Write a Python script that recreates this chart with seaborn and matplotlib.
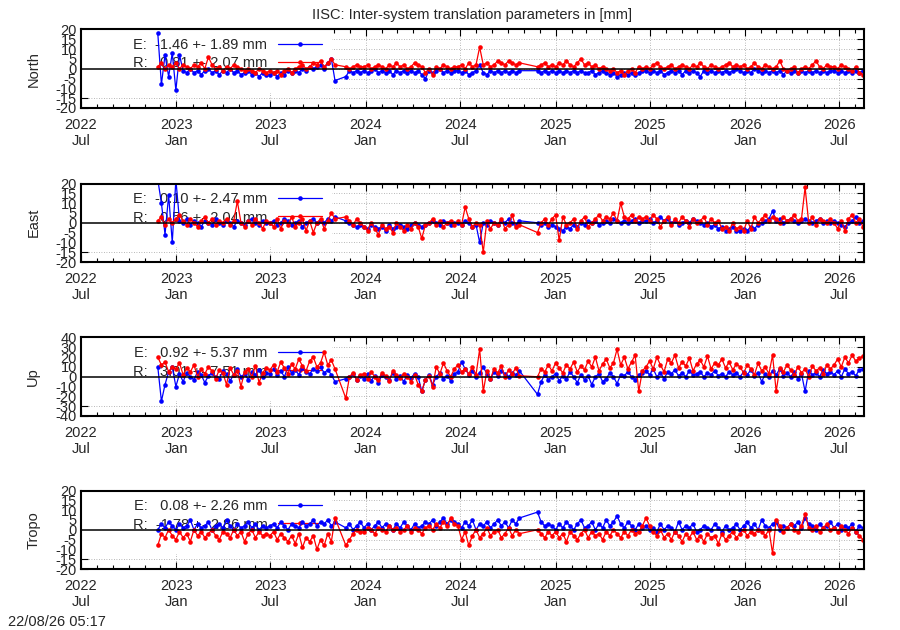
import numpy as np
import pandas as pd
import matplotlib
matplotlib.use("Agg")
import matplotlib.pyplot as plt
import matplotlib.dates as mdates
from matplotlib.lines import Line2D
from matplotlib.patches import Rectangle
import seaborn as sns

nan = np.nan

# time span of the solutions (weekly samples)
start_date = "2022-11-26"
end_date = "2026-08-16"
x_min = "2022-07-01"
x_max = "2026-08-18"

panel_names = ["North", "East", "Up", "Tropo"]
e_stats = ["-1.46 +- 1.89", "-0.10 +- 2.47", " 0.92 +- 5.37", " 0.08 +- 2.26"]
r_stats = [" 0.81 +- 2.07", " 0.56 +- 2.04", " 3.01 +- 7.51", "-1.78 +- 2.86"]
y_ticks = [list(range(-20, 21, 5)), list(range(-20, 21, 5)),
           list(range(-40, 41, 10)), list(range(-20, 21, 5))]

north_e = [18, -8, 7, -4, 8, -11, 7, -1, -2, 0, -2, -1, -3, -1, 0, -2, -1, -3, -1, -2, 0, -2, -1, -3, -2, -1, -3, -2, -4, -2, -3,
           -3, -2, -4, -2, -3, -1, -2, -1, -2, 0, -1, 1, 0, 1, 2, 0, 3, 5, -6, nan, nan, -4, -1, -2, -1, -2,
           -1, -2, -1, 0, -2, -1, -2, -1, -3, -1, -2, -1, -2, -1, -2, -1, -3, -5, -1, -2, -1, 0, -2, -1, -2, -1,
           -1, -2, -1, -3, -2, -1, 2, -2, -3, -1, -2, -1, -2, -1, -2, -1, -2, -1, nan, nan, nan, nan, -1, -2, -1, -2,
           -1, -2, -1, -2, -1, -2, -1, -2, -1, -2, -2, -1, -3, -2, -1, -2, -3, -2, -4, -3, -2, -3, -2, -3, -2, -1,
           -1, -2, -1, -2, -1, -3, -2, -1, -2, -1, -3, -1, -2, -1, -2, -4, -1, -2, -1, -2, -1, -2, -1, -2, -1, 0,
           -1, -2, -1, -2, 0, -1, -2, -1, -2, -1, -2, -1, -3, -1, -2, -1, -2, -1, -2, -1, -2, -1, -2, -1, -2, -1,
           -1, -2, -1, -2, -1, -2, -1, -2, -1]
north_r = [1, 3, 0, 2, 1, 3, 0, 2, 1, 0, 2, 1, 3, 0, 6, 2, 0, 1, -1, 1, 0, 2, 1, 0, -1, 0, -1, -2, 0, -1, -2,
           -1, -2, -1, -3, -1, 0, -2, 0, 1, 2, 0, 1, 3, 2, 4, 1, 3, 5, 2, nan, nan, 1, 0, 1, 2, 1,
           1, 2, 0, 1, 2, 1, 0, 2, 1, 3, 1, 2, 0, 1, 3, 2, 1, -2, 0, -3, 1, 0, 2, 1, 0, 1,
           1, 2, 0, 3, 1, 2, 11, 2, 3, 1, 2, 4, 3, 2, 4, 3, 2, 3, nan, nan, nan, nan, 1, 2, 3, 1,
           2, 1, 3, 2, 4, 2, 1, 3, 5, 2, 3, 1, 2, 0, 1, 0, -1, 0, -2, -1, -3, -1, 0, -2, 1, 0,
           1, 0, 2, 3, 1, 0, 1, 2, 0, 1, 2, 1, 0, 2, 1, 3, 1, 0, 2, 1, 0, 1, 2, 3, 1, 2,
           1, 2, 0, 1, 3, 1, 0, 2, 1, 0, 1, 4, 0, -1, 0, 1, -2, 0, 1, 0, 2, 4, 1, 0, 2, 1,
           1, 0, 2, 1, 0, -1, 1, -2, -3]

east_e = [22, 10, -6, 14, -10, 22, 1, 0, 2, -1, 1, 0, -2, 1, 0, -1, 2, 0, -1, 1, 0, -2, 1, 0, -1, 1, 2, 0, -1, 1, 0,
          0, 1, -1, 0, 2, 1, -1, 0, 1, -2, 0, 1, 2, 0, 1, 0, 2, 1, 3, nan, nan, 1, 0, -1, -2, -1,
          -2, -3, -1, -2, -3, -2, -4, -1, -3, -2, -1, -2, -3, -1, 0, -1, -2, -1, 0, 1, 0, -1, 1, 0, -1, 0,
          0, -1, 1, 0, -2, -1, -10, 0, -1, 1, 0, -1, 1, 0, 2, 0, -1, 1, nan, nan, nan, nan, 0, -1, 0, -2,
          -1, -2, -3, -4, -2, -3, -1, -2, 0, -1, 1, 0, 1, -1, 0, 1, 0, 2, 1, 0, 1, 0, 1, 2, 0, 1,
          1, 2, 0, 1, 3, 1, 2, 0, 1, -1, 0, 1, 0, 2, 1, 0, -1, 0, -2, -1, -3, -2, -4, -3, -2, -4,
          -4, -3, -4, -2, -3, -1, 0, 1, 2, 6, 1, 2, 0, 1, 2, 1, 0, 1, 2, 1, 0, 1, 2, 0, 1, 0,
          1, 0, -1, -2, 0, 1, 3, 0, 1]
east_r = [1, 3, -1, 2, 0, 2, 4, 1, -1, 2, 0, -2, 1, 3, 0, 2, -1, 1, 0, 2, -1, 1, 11, 0, -2, 1, -1, 2, 0, -3, 1,
          0, -2, 2, -3, 1, -1, 3, -2, 0, 2, -4, 1, -5, 0, 2, -3, 1, 5, 2, nan, nan, 3, 1, -1, 2, 0,
          -2, -4, 0, -3, -6, -1, -3, -2, -5, 0, -2, -4, -1, -3, 0, -2, -8, -1, 0, 2, -1, 1, -2, 0, 1, -1,
          1, -1, 8, 2, -2, 0, -1, -15, 1, -3, 0, -1, 2, -3, -1, 4, -2, -1, nan, nan, nan, nan, -5, 0, 2, -1,
          2, 4, -9, 3, -1, 0, 2, -3, 1, 3, -2, 0, 2, 4, 1, 3, 2, 5, 1, 10, 3, 2, 4, 1, 3, 2,
          3, 1, 4, 2, -2, 1, 3, -1, 2, 0, 3, 1, -2, 2, 0, 1, 3, -1, 2, 0, 1, -3, -2, -4, 0, -3,
          -2, -4, 1, -3, 3, 0, 2, 4, 1, 3, 2, 0, 3, 1, 2, 4, 1, 2, 18, 0, 3, -1, 2, 1, 0, 2,
          0, -3, 1, -4, 2, 4, 0, 2, -2]

up_e = [10, -25, -8, 5, 10, -10, 3, -5, 4, 0, -3, 5, 2, -6, 1, 4, 0, -2, 6, 3, -4, 2, 8, 0, 3, -3, 5, 2, 7, 0, 4,
        3, 8, 2, 6, 0, 10, 4, 7, 2, 9, 5, 3, 8, 6, 10, 4, 7, 2, -5, nan, nan, -2, 0, 3, -3, 1,
        -2, 3, -4, 1, -6, 2, 0, -3, 4, -2, 1, -5, 2, -1, 3, 0, -15, -3, 2, -8, 0, 4, -2, 1, -4, 3,
        5, 15, 8, 2, 6, 0, 4, 10, 3, -2, 5, 1, 6, 3, 0, 4, 2, 6, nan, nan, nan, nan, -18, -5, 2, -3,
        0, 3, -4, 1, -2, 5, 0, -6, 2, -3, 1, -8, 0, 3, -5, -2, 4, 0, -7, 2, 1, 5, 0, -3, 2, 4,
        6, 2, 8, 0, 4, -2, 5, 3, 7, 1, 4, 0, 6, 2, 3, 5, 0, 4, 2, 6, 1, 3, 0, 5, 2, 4,
        0, 5, 2, 7, 1, 4, -5, 3, 0, 6, 2, 8, 1, 4, 0, 5, -2, 3, -15, 6, 2, 4, 0, 7, 3, 5,
        2, 6, 0, 8, 3, 5, 1, 7, 8]
up_r = [20, 12, 15, 5, 10, 8, 14, 2, 9, 5, 12, 0, 8, 3, 10, 6, -2, 7, 4, -8, 9, 2, 6, -10, 5, 8, 0, 11, -6, 4, 9,
        7, 12, 5, 15, 9, 3, 13, 8, 18, 11, 6, 16, 20, 10, 14, 25, 12, 17, 8, nan, nan, -22, 0, 4, -3, 2,
        3, -2, 5, 0, -3, 4, 1, -4, 6, 2, -1, 3, 0, -5, 2, -8, -15, -3, 1, -10, 10, 3, 14, 6, 0, 8,
        12, 5, 8, 3, 10, 2, 28, -15, 6, -2, 8, 4, 11, 0, 7, 3, 9, 1, nan, nan, nan, nan, 0, 8, 5, 12,
        6, 14, 9, 4, 12, 8, 15, 5, 11, 7, 16, 10, 20, 6, 13, 18, 9, 14, 28, 12, 20, 8, 15, 22, -15, 6,
        10, 16, 8, 20, 12, 5, 18, 14, 22, 9, 15, 11, 19, 6, 13, 17, 10, 21, 8, 14, 12, 18, 9, 15, 7, 13,
        10, 4, 12, 8, 2, 14, 6, 10, 3, 22, -15, 9, 5, 12, 7, 2, 10, 4, 8, 0, 11, 6, 9, 3, 12, 8,
        12, 18, 10, 20, 14, 22, 16, 19, 21]

tropo_e = [0, 3, 1, 4, 2, 0, 3, 1, 2, 5, 0, 3, 1, 2, 4, 0, 2, 3, 1, 5, 2, 0, 3, 1, 2, 4, 1, 3, 0, 2, 1,
           2, 3, 1, 4, 2, 0, 3, 2, 1, 4, 2, 3, 5, 2, 4, 3, 5, 2, 4, nan, nan, 1, 3, 0, 2, 4,
           1, 3, 0, 2, 4, 1, 3, 2, 0, 3, 1, 4, 2, 0, 3, 1, 2, 4, 3, 5, 2, 4, 6, 3, 5, 4,
           3, 1, 4, 2, 5, 0, 3, 2, 4, 1, 3, 5, 2, 4, 1, 5, 3, 6, nan, nan, nan, nan, 9, 4, 2, 3,
           2, 0, 3, 1, 4, 2, 0, 3, 5, 1, 2, 4, 0, 3, 1, 5, 2, 4, 7, 3, 1, 4, 2, 0, 3, 1,
           2, 0, 1, -1, 3, 0, 2, 1, -1, 4, 0, 2, 1, 3, -1, 0, 2, 1, 0, 3, 1, -1, 2, 0, 1, 3,
           0, 2, 4, 1, 3, 0, 5, 2, 1, 3, 4, 0, 2, 1, 3, 2, 4, 1, 6, 3, 2, 0, 3, 1, 2, 4,
           1, 3, 0, 2, 1, 3, -1, 2, 1]
tropo_r = [-8, -2, -4, 0, -3, -5, -1, -4, -2, -6, 0, -3, -1, -4, -2, 0, -3, -5, -1, -2, -4, 0, -3, -1, -6, -2, 0, -4, -1, -3, -2,
           -3, -1, -5, -2, -4, -6, -3, -7, -2, -9, -4, -6, -3, -10, -5, -8, -2, -6, 6, nan, nan, -8, -5, -2, 0, -1,
           -1, 1, 0, -2, 1, 0, -1, 2, 0, 1, -1, 0, 2, -1, 1, 0, -2, 1, 2, 0, 3, 1, 4, 2, 6, 3,
           2, -5, -1, -8, -3, 0, -4, -2, 1, -3, -1, 0, -4, -2, 1, -3, 0, -2, nan, nan, nan, nan, 0, -2, -4, -1,
           -3, -1, -4, -2, -6, -1, -3, -5, -2, 0, -4, -1, -3, -2, -5, -1, -3, 0, -2, -4, -1, -3, 0, -2, -1, 2,
           6, 2, -1, -3, 0, -4, -2, -5, -1, -3, -6, -2, -4, -1, -5, -3, -6, -2, -4, -3, -7, -2, -5, -3, -1, -4,
           -2, 0, -3, -1, -2, 0, -1, -3, 0, -12, 5, 2, -1, 1, 3, 0, -1, 2, 8, 1, 0, 2, -1, 1, 3, 0,
           1, -1, 2, 0, -2, 1, -1, -3, -5]

series_e = [north_e, east_e, up_e, tropo_e]
series_r = [north_r, east_r, up_r, tropo_r]

sns.set_style("ticks")
plt.rcParams["font.family"] = ["Liberation Sans", "DejaVu Sans"]
plt.rcParams["font.size"] = 10.5
plt.rcParams["axes.unicode_minus"] = False

fig = plt.figure(figsize=(9, 6.3), dpi=100)
bottoms = [0.8286, 0.5841, 0.3397, 0.0968]

def to_frame(vals):
    df = pd.DataFrame({"date": pd.date_range(start_date, end_date, periods=len(vals)),
                       "value": vals})
    return df.dropna()

for k, name in enumerate(panel_names):
    ax = fig.add_axes([0.09, bottoms[k], 0.87, 0.1246])

    for vals, col in [(series_e[k], "blue"), (series_r[k], "red")]:
        sns.lineplot(data=to_frame(vals), x="date", y="value", ax=ax, color=col,
                     marker="o", markersize=3.3, markeredgewidth=0, linewidth=0.9,
                     estimator=None, sort=False, zorder=2)

    ax.axhline(0, color="black", linewidth=1.1, zorder=2.5)

    # white key box hiding the grid, like gnuplot
    ax.add_patch(Rectangle((0, 0.19), 0.32, 0.81, transform=ax.transAxes,
                           facecolor="white", edgecolor="none", zorder=1))
    handles = [Line2D([], [], color="blue", marker="o", markersize=3.3, linewidth=0.9, markeredgewidth=0),
               Line2D([], [], color="red", marker="o", markersize=3.3, linewidth=0.9, markeredgewidth=0)]
    labels = [f"E:  {e_stats[k]} mm", f"R:  {r_stats[k]} mm"]
    leg = ax.legend(handles, labels, loc="upper left", bbox_to_anchor=(0.066, 0.89),
                    frameon=False, markerfirst=False, handlelength=3.0, handletextpad=0.75,
                    borderpad=0, borderaxespad=0, labelspacing=0.3, fontsize=10.5)
    leg.set_zorder(1.5)

    ax.set_xlim(pd.Timestamp(x_min), pd.Timestamp(x_max))
    ax.set_ylim(y_ticks[k][0], y_ticks[k][-1])
    ax.set_yticks(y_ticks[k])
    ax.xaxis.set_major_locator(mdates.MonthLocator(bymonth=[1, 7]))
    ax.xaxis.set_major_formatter(mdates.DateFormatter("%Y\n%b"))
    ax.xaxis.set_minor_locator(mdates.MonthLocator())

    ax.set_axisbelow(True)
    ax.grid(True, which="major", color="#a0a0a0", linestyle=(0, (1, 2)), linewidth=0.6)
    ax.tick_params(which="both", direction="in", top=True, right=True, color="black")
    ax.tick_params(which="major", length=5, width=0.8, pad=3, labelsize=10.5)
    ax.tick_params(which="minor", length=3, width=0.8)
    ax.tick_params(axis="x", which="major", pad=7)
    for sp in ax.spines.values():
        sp.set_linewidth(1.5)
        sp.set_color("black")

    ax.set_xlabel(None)
    ax.set_ylabel(name, fontsize=10.5)
    ax.yaxis.set_label_coords(-0.052, 0.5)

fig.text(472 / 900, 1 - 15 / 630, "IISC: Inter-system translation parameters in [mm]",
         ha="center", va="center", fontsize=10.5)
fig.text(8 / 900, 1 - 622 / 630, "22/08/26 05:17", ha="left", va="center", fontsize=10.5)

fig.savefig("out.png", dpi=100)
